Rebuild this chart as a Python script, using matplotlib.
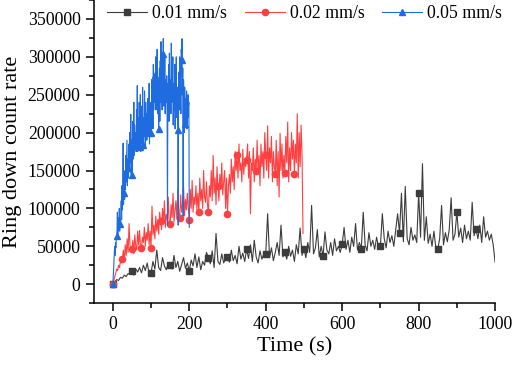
import numpy as np
import matplotlib
matplotlib.use('Agg')
import matplotlib.pyplot as plt
from matplotlib.ticker import MultipleLocator

# Ring down count rate (thousands)
# 0.01 mm/s, one value every 5 s from 0 to 1000 s
t_slow = np.arange(0, 1000.1, 5)
rate_slow = [
    0, 3, 6, 5, 9, 8, 12, 10, 14, 13,
    18, 12, 20, 16, 22, 15, 25, 18, 28, 14,
    15, 30, 20, 45, 22, 18, 35, 24, 19, 28,
    25, 20, 38, 22, 30, 17, 26, 35, 21, 28,
    17, 32, 24, 40, 22, 36, 19, 30, 25, 42,
    35, 27, 44, 22, 67, 30, 26, 40, 28, 34,
    36, 29, 45, 31, 38, 27, 50, 33, 41, 30,
    46, 34, 52, 30, 58, 36, 28, 44, 33, 40,
    40, 93, 35, 48, 31, 42, 55, 38, 78, 36,
    42, 33, 50, 37, 45, 30, 52, 40, 74, 38,
    47, 35, 55, 42, 104, 40, 48, 72, 36, 50,
    37, 69, 45, 40, 55, 38, 60, 44, 50, 42,
    53, 75, 46, 58, 42, 62, 50, 80, 45, 55,
    47, 95, 52, 44, 68, 50, 58, 46, 62, 49,
    51, 93, 60, 48, 70, 55, 64, 50, 72, 93,
    68, 120, 56, 129, 60, 52, 75, 58, 65, 55,
    120, 62, 159, 58, 89, 54, 66, 50, 70, 48,
    46, 60, 104, 52, 68, 56, 72, 114, 58, 66,
    95, 62, 74, 55, 78, 60, 70, 58, 108, 64,
    73, 60, 78, 55, 89, 62, 70, 58, 66, 52,
    29,
]

# 0.02 mm/s, one value every 2.5 s
t_mid = np.arange(0, 500, 2.5)
rate_mid = [
    0, 5, 10, 14, 20, 18, 25, 22, 30, 28,
    33, 45, 30, 52, 38, 60, 42, 80, 50, 44,
    47, 58, 40, 65, 50, 45, 70, 52, 71, 48,
    48, 62, 55, 75, 50, 68, 58, 80, 52, 70,
    48, 103, 65, 78, 60, 90, 70, 85, 66, 95,
    83, 72, 100, 80, 110, 75, 92, 85, 115, 78,
    79, 105, 88, 120, 82, 96, 110, 86, 125, 92,
    87, 118, 95, 105, 130, 90, 112, 98, 120, 100,
    85, 125, 100, 137, 95, 115, 105, 130, 98, 120,
    95, 140, 110, 125, 100, 150, 115, 108, 135, 105,
    95, 130, 115, 150, 110, 170, 120, 140, 105, 155,
    129, 110, 145, 125, 160, 118, 135, 150, 100, 140,
    92, 130, 145, 120, 165, 135, 155, 125, 175, 150,
    170, 140, 185, 150, 160, 135, 178, 145, 165, 155,
    164, 185, 140, 175, 93, 160, 150, 180, 135, 165,
    150, 190, 145, 170, 130, 185, 155, 175, 140, 200,
    171, 150, 209, 140, 180, 160, 195, 135, 175, 155,
    146, 190, 130, 175, 115, 199, 150, 185, 140, 170,
    147, 195, 160, 214, 135, 180, 150, 200, 165, 190,
    146, 185, 160, 225, 140, 200, 155, 210, 170, 67,
]

# 0.05 mm/s, one value every 1 s
t_fast = np.arange(0, 201, 1)
rate_fast = [
    0, 8, 18, 30, 42, 50, 38, 55, 48, 60,
    64, 70, 95, 66, 72, 88, 75, 100, 70, 82,
    79, 92, 110, 85, 130, 98, 118, 186, 105, 140,
    120, 112, 150, 125, 170, 135, 160, 190, 130, 165,
    153, 140, 185, 150, 200, 160, 170, 224, 145, 190,
    144, 180, 215, 165, 195, 240, 170, 210, 185, 200,
    184, 175, 230, 190, 262, 175, 205, 220, 180, 240,
    181, 195, 250, 175, 215, 200, 235, 185, 260, 190,
    184, 220, 195, 255, 205, 180, 240, 200, 225, 190,
    208, 245, 195, 230, 210, 265, 185, 240, 215, 225,
    200, 235, 270, 215, 250, 205, 290, 230, 260, 240,
    276, 240, 300, 230, 265, 255, 310, 225, 270, 235,
    205, 260, 285, 215, 295, 240, 320, 250, 275, 230,
    304, 260, 324, 235, 280, 250, 300, 225, 270, 245,
    244, 275, 230, 78, 265, 240, 290, 215, 305, 250,
    246, 270, 225, 318, 240, 285, 260, 300, 210, 265,
    253, 230, 290, 205, 275, 245, 300, 220, 260, 235,
    203, 78, 245, 280, 230, 300, 250, 270, 225, 310,
    296, 324, 250, 285, 90, 270, 240, 200, 260, 230,
    212, 245, 230, 255, 205, 240, 220, 250, 235, 240,
    75,
]

plt.rcParams['font.family'] = ['Liberation Serif', 'DejaVu Serif']

fig = plt.figure(figsize=(5.12, 3.67), dpi=100)
ax = fig.add_axes([0.183, 0.174, 0.784, 0.826])

ax.plot(t_slow, np.array(rate_slow) * 1000, color='#3c3c3c', lw=0.8,
        marker='s', ms=4, markevery=slice(0, 200, 10), label='0.01 mm/s')
ax.plot(t_mid, np.array(rate_mid) * 1000, color='#ff4040', lw=0.8,
        marker='o', ms=4.5, markevery=10, label='0.02 mm/s')
ax.plot(t_fast, np.array(rate_fast) * 1000, color='#1f6be0', lw=0.8,
        marker='^', ms=4.5, markevery=slice(0, 200, 10), label='0.05 mm/s')

ax.set_xlim(-50, 1000)
ax.set_ylim(-25000, 375000)
ax.xaxis.set_major_locator(MultipleLocator(200))
ax.xaxis.set_minor_locator(MultipleLocator(100))
ax.yaxis.set_major_locator(MultipleLocator(50000))
ax.yaxis.set_minor_locator(MultipleLocator(25000))
ax.spines['top'].set_visible(False)
ax.spines['right'].set_visible(False)
for s in ('left', 'bottom'):
    ax.spines[s].set_linewidth(1.1)
ax.tick_params(which='major', direction='out', length=6, width=1.1, labelsize=12.8)
ax.tick_params(which='minor', direction='out', length=3.5, width=1.1)

ax.set_xlabel('Time (s)', fontsize=16, labelpad=3)
ax.set_ylabel('Ring down count rate', fontsize=16, labelpad=4)

ax.legend(loc='center left', bbox_to_anchor=(107 / 512, 1 - 14 / 367),
          bbox_transform=fig.transFigure, borderpad=0, borderaxespad=0,
          ncol=3, frameon=False, fontsize=12.8, handlelength=2.25,
          columnspacing=1.0, handletextpad=0.28)

fig.savefig('out.png', dpi=100)
